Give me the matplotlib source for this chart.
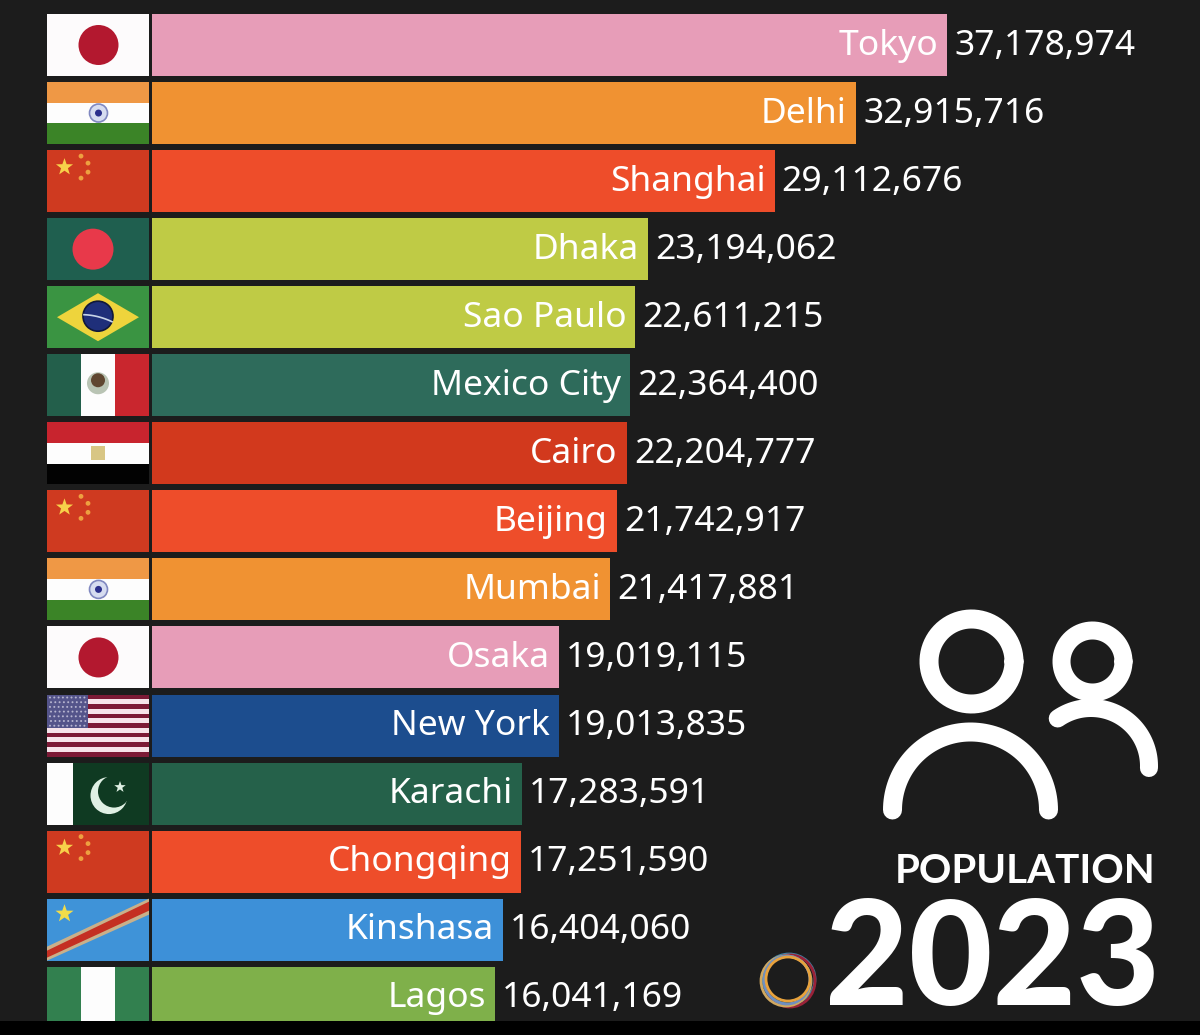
import numpy as np
import matplotlib
matplotlib.use("Agg")
import matplotlib.pyplot as plt
from matplotlib.patches import Rectangle, Circle, Polygon, Ellipse

cities = ["Tokyo", "Delhi", "Shanghai", "Dhaka", "Sao Paulo", "Mexico City", "Cairo", "Beijing",
          "Mumbai", "Osaka", "New York", "Karachi", "Chongqing", "Kinshasa", "Lagos"]
population = [37178974, 32915716, 29112676, 23194062, 22611215, 22364400, 22204777, 21742917,
              21417881, 19019115, 19013835, 17283591, 17251590, 16404060, 16041169]
countries = ["jp", "in", "cn", "bd", "br", "mx", "eg", "cn", "in", "jp", "us", "pk", "cn", "cd", "ng"]
bar_colors = ["#e79db8", "#f09232", "#ee4d2a", "#bfcb45", "#bfcb45", "#2e6b5b", "#d2391d", "#ee4d2a",
              "#f09232", "#e79db8", "#1c4d8e", "#25614a", "#ee4d2a", "#3d90d8", "#7fb04a"]

BG = "#1c1c1c"
W, H = 1200, 1035
FLAG_L, FLAG_R = 47, 149
BAR_L = 152
ROW0 = 45
PITCH = 68.05
BAR_H = 62
PX_PER_PERSON = 795 / 37178974

plt.rcParams["font.family"] = ["Noto Sans", "DejaVu Sans"]

fig = plt.figure(figsize=(12, 10.35), dpi=100, facecolor=BG)

# bars live in their own axes, x is people and y is the row number
ax = fig.add_axes([BAR_L / W, 0, (W - BAR_L) / W, 1])
ax.set_facecolor(BG)
ax.set_xlim(0, (W - BAR_L) / PX_PER_PERSON)
ax.set_ylim((H - ROW0) / PITCH, -ROW0 / PITCH)
ax.axis("off")
rows = np.arange(len(cities))
ax.barh(rows, population, height=BAR_H / PITCH, color=bar_colors, linewidth=0)
for r, city, pop in zip(rows, cities, population):
    ax.annotate(city, (pop, r), xytext=(-6.5, -6.9), textcoords="offset points", ha="right",
                va="baseline", color="white", fontsize=25.5, fontweight="medium")
    ax.annotate(f"{pop:,}", (pop, r), xytext=(5.2, -6.9), textcoords="offset points", ha="left",
                va="baseline", color="white", fontsize=25.5, fontweight="medium")

# overlay in pixel coordinates for flags and the icon
ov = fig.add_axes([0, 0, 1, 1])
ov.set_xlim(0, W)
ov.set_ylim(H, 0)
ov.axis("off")
ov.patch.set_alpha(0)


def star(cx, cy, r, color):
    ang = np.deg2rad(-90 + 36 * np.arange(10))
    rad = np.where(np.arange(10) % 2 == 0, r, r * 0.4)
    ov.add_patch(Polygon(np.c_[cx + rad * np.cos(ang), cy + rad * np.sin(ang)], color=color, lw=0))


def hbands(top, cols):
    h = BAR_H / len(cols)
    for i, c in enumerate(cols):
        ov.add_patch(Rectangle((FLAG_L, top + i * h), FLAG_R - FLAG_L, h, color=c, lw=0))


def vbands(top, cols, widths):
    x = FLAG_L
    for c, w in zip(cols, widths):
        ov.add_patch(Rectangle((x, top), w, BAR_H, color=c, lw=0))
        x += w


def draw_flag(code, cy):
    top = cy - BAR_H / 2
    cx = (FLAG_L + FLAG_R) / 2
    if code == "jp":
        hbands(top, ["#fdfbfc"])
        ov.add_patch(Circle((cx + 0.5, cy), 20, color="#b3182f", lw=0))
    elif code == "in":
        hbands(top, ["#ef9845", "#fdfdfd", "#3b8427"])
        ov.add_patch(Circle((cx + 0.5, cy), 9, fc="#d6dcf0", ec="#8088c0", lw=1.2))
        ov.add_patch(Circle((cx + 0.5, cy), 3.5, color="#2b2f8c", lw=0))
    elif code == "cn":
        hbands(top, ["#cf3a20"])
        star(64.5, cy - 14, 9, "#f7d14a")
        for dx, dy in [(81, -25), (88, -18), (88, -9), (81, -3)]:
            ov.add_patch(Circle((dx, cy + dy), 2.4, color="#eea040", lw=0))
    elif code == "bd":
        hbands(top, ["#1f5f4f"])
        ov.add_patch(Circle((93, cy), 20.5, color="#e8394a", lw=0))
    elif code == "br":
        hbands(top, ["#3a9442"])
        ov.add_patch(Polygon([(FLAG_L + 10, cy), (cx, cy - 24), (FLAG_R - 10, cy), (cx, cy + 24)],
                             color="#eed43c", lw=0))
        ov.add_patch(Circle((cx, cy - 1), 15, fc="#1f2f7a", ec="#10183a", lw=1.2))
        t = np.linspace(-14, 14, 30)
        ov.plot(cx + t, cy - 4 + (t + 14) * 0.25 - (t / 14) ** 2 * -1.5, color="#c8d4e8", lw=1.2)
    elif code == "mx":
        vbands(top, ["#235f4b", "#fdfdfd", "#c9262e"], [34, 34, 34])
        ov.add_patch(Circle((cx, cy - 2), 11, color="#b9c4b4", lw=0))
        ov.add_patch(Circle((cx, cy - 5), 7, color="#5f4630", lw=0))
    elif code == "eg":
        hbands(top, ["#c8242e", "#fdfdfd", "#020202"])
        ov.add_patch(Rectangle((cx - 7, cy - 7), 14, 14, color="#d8c684", lw=0))
    elif code == "us":
        n = 13
        h = BAR_H / n
        for i in range(n):
            c = "#7c1a36" if i % 2 == 0 else "#f6e4ea"
            ov.add_patch(Rectangle((FLAG_L, top + i * h), FLAG_R - FLAG_L, h, color=c, lw=0))
        ov.add_patch(Rectangle((FLAG_L, top), 41, 7 * h, color="#54548a", lw=0))
        for j in range(7):
            for i in range(9):
                ov.add_patch(Circle((FLAG_L + 3 + i * 4.3 + (j % 2), top + 3 + j * 4.7), 1.0,
                                    color="#b6b4d0", lw=0))
    elif code == "pk":
        vbands(top, ["#fdfdfd", "#0f3a22"], [26, 76])
        ov.add_patch(Circle((109, cy + 2), 18.5, color="#dff0e4", lw=0))
        ov.add_patch(Circle((114, cy - 2), 16, color="#0f3a22", lw=0))
        star(120, cy - 6.5, 6, "#dff0e4")
    elif code == "cd":
        hbands(top, ["#3f93d8"])
        ov.add_patch(Polygon([(FLAG_L, cy + 17), (FLAG_R, cy - 31), (FLAG_R, cy - 15), (FLAG_L, cy + 31)],
                             color="#c9b08a", lw=0))
        ov.add_patch(Polygon([(FLAG_L, cy + 21), (FLAG_R, cy - 28), (FLAG_R, cy - 19), (FLAG_L, cy + 28)],
                             color="#c42f22", lw=0))
        star(64.5, cy - 16, 9.5, "#f2dc4a")
    elif code == "ng":
        vbands(top, ["#32804f", "#fdfdfd", "#32804f"], [34, 34, 34])


for i, code in enumerate(countries):
    draw_flag(code, ROW0 + PITCH * i)


# people icon
def ring_line(cx, cy, r, a0, a1, lw):
    t = np.deg2rad(np.linspace(a0, a1, 80))
    ov.plot(cx + r * np.cos(t), cy + r * np.sin(t), color="white", lw=lw * 0.72,
            solid_capstyle="round")


ring_line(971.5, 661.5, 42.5, 0, 360, 19)
ring_line(970.5, 810, 78, 180, 360, 19)
ring_line(1092.5, 661.5, 31, 0, 360, 18)
ring_line(1091, 766, 58, 235, 362, 18)

ov.text(1155, 883, "POPULATION", color="white", fontsize=29, fontweight="bold", family="Lato",
        ha="right", va="baseline")
ov.text(1160, 1005, "2023", color="white", fontsize=104, fontweight="black", family="Lato",
        ha="right", va="baseline")

# logo ring
for dx, dy, rx, ry, col in [(1, -1, 26, 25, "#3f84a8"), (2, 1, 25, 26, "#9a2238"),
                            (-2, 1, 25, 25, "#d0a860"), (-1, 0, 23, 24, "#6f8fc0"),
                            (0, -1, 22, 22, "#e8a23c")]:
    ov.add_patch(Ellipse((788 + dx, 980 + dy), 2 * rx, 2 * ry, fill=False, ec=col, lw=2))

# black strip at the bottom of the screenshot
ov.add_patch(Rectangle((0, 1021), W, H - 1021, color="black", lw=0, zorder=20))

fig.savefig("out.png", dpi=100, facecolor=BG)
